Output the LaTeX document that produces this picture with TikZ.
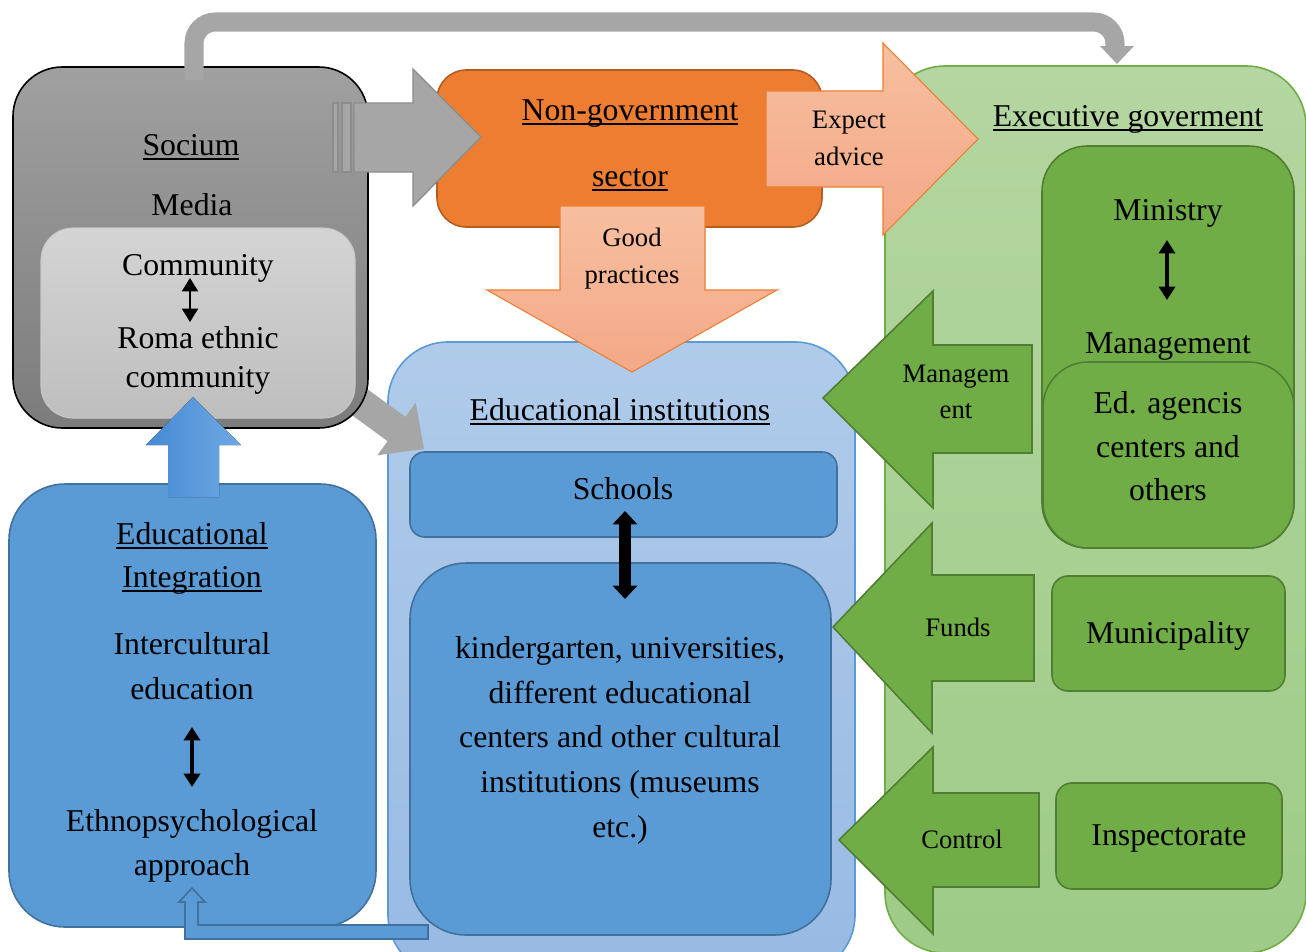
\documentclass[tikz,border=0pt]{standalone}
\usepackage{fontspec}
\setmainfont{Liberation Serif}
\usetikzlibrary{arrows.meta}
\definecolor{cgray}{HTML}{A6A6A6}
\definecolor{cgrayd}{HTML}{8C8C8C}
\definecolor{corange}{HTML}{ED7D31}
\definecolor{corangeb}{HTML}{B25E22}
\definecolor{csalmonT}{HTML}{F6BFA0}
\definecolor{csalmonB}{HTML}{F4A886}
\definecolor{cblue}{HTML}{5B9BD5}
\definecolor{cblueb}{HTML}{41719C}
\definecolor{cgreen}{HTML}{70AD47}
\definecolor{cgreenb}{HTML}{507E32}
\newcommand{\rbox}[7]{\node[#7, rounded corners=#6, minimum width={(#4-(#2))*0.75pt}, minimum height={(#5-(#3))*0.75pt}] (#1) at ({((#2)+(#4))/2},{((#3)+(#5))/2}) {};}
\newcommand{\myul}[1]{{\setbox0\hbox{#1}\rlap{\rule[-0.16em]{\wd0}{0.065em}}\box0}}
\begin{document}
\begin{tikzpicture}[x=0.75pt,y=-0.75pt,
  every node/.style={inner sep=0pt, outer sep=0pt},
  big/.style={font=\fontsize{23.8}{28}\selectfont, anchor=base},
  small/.style={font=\fontsize{20}{24}\selectfont, anchor=base},
  bluebox/.style={fill=cblue, draw=cblueb, line width=1.2pt},
  greenbox/.style={fill=cgreen, draw=cgreenb, line width=1.2pt},
  greenarrow/.style={fill=cgreen, draw=cgreenb, line width=1.2pt},
  grayarrow/.style={fill=cgray, draw=cgrayd, line width=1pt},
  dbl/.style={line width=#1, {Triangle[width=12pt,length=10pt]}-{Triangle[width=12pt,length=10pt]}}
]
\useasboundingbox (0,0) rectangle (1306,951);
\clip (0,0) rectangle (1306,951);

% background containers
\rbox{exec}{885}{66}{1306}{953}{45pt}{top color={rgb,255:red,180;green,214;blue,161}, bottom color={rgb,255:red,158;green,203;blue,135}, draw=cgreen, line width=1.2pt}
\rbox{edinst}{388}{342}{855}{975}{45pt}{top color={rgb,255:red,176;green,203;blue,234}, bottom color={rgb,255:red,152;green,186;blue,227}, draw=cblue, line width=1.2pt}

% grey diagonal arrow (behind socium)
\fill[cgray] (356.9,381.5) -- (405.4,416.9) -- (415.7,402.7) -- (424,449) -- (377.3,455.3) -- (387.6,441.2) -- (339.2,405.7) -- cycle;

% socium
\rbox{socium}{13}{67}{368}{428}{37pt}{top color={rgb,255:red,160;green,160;blue,160}, bottom color={rgb,255:red,124;green,124;blue,124}, draw=black, line width=1.2pt}
\rbox{commbox}{41}{228}{355}{418}{24pt}{top color={rgb,255:red,212;green,212;blue,212}, bottom color={rgb,255:red,190;green,190;blue,190}, draw={rgb,255:red,200;green,200;blue,200}, line width=0.8pt}

% top grey connector
\coordinate (topS) at (194,80);
\coordinate (topE) at (1115,50);
\draw[cgray, line width=14.3pt, rounded corners=16pt] (topS) |- (1115,22) -- (topE);
\fill[cgray] (1100,46) -- (1134,46) -- (1117,64) -- cycle;

% NGO
\rbox{ngo}{437}{70}{822}{227}{22pt}{fill=corange, draw=corangeb, line width=1.2pt}

% grey striped arrow socium -> ngo
\draw[grayarrow] (333,103) rectangle (338,172);
\draw[grayarrow] (342,103) rectangle (351,172);
\draw[grayarrow] (354,103) -- (413,103) -- (413,69) -- (481,137) -- (413,206) -- (413,172) -- (354,172) -- cycle;

% expect advice arrow
\draw[top color=csalmonT, bottom color=csalmonB, draw=corange, line width=0.8pt] (766,91) -- (883,91) -- (883,43) -- (978,139) -- (883,235) -- (883,187) -- (766,187) -- cycle;

% good practices arrow
\draw[top color=csalmonT, bottom color=csalmonB, draw=corange, line width=0.8pt] (560,206) -- (705,206) -- (705,290) -- (777,290) -- (632,372) -- (487,290) -- (560,290) -- cycle;

% blue boxes
\rbox{schools}{410}{452}{837}{537}{11pt}{bluebox}
\rbox{kinder}{410}{563}{831}{935}{42pt}{bluebox}
\rbox{integ}{9}{484}{376}{927}{42pt}{bluebox}

% blue up arrow
\fill[left color={rgb,255:red,70;green,138;blue,212}, right color={rgb,255:red,110;green,168;blue,226}] (168,497) -- (168,445) -- (146,445) -- (193,397) -- (241,445) -- (219,445) -- (219,497) -- cycle;

% bottom bent arrow
\draw[bluebox] (428,925) -- (198,925) -- (198,902) -- (205,902) -- (192,888) -- (179,902) -- (185,902) -- (185,939) -- (428,939) -- cycle;

% green boxes
\rbox{ministry}{1042}{146}{1294}{548}{34pt}{greenbox}
\rbox{agenc}{1043}{362}{1294}{548}{34pt}{greenbox}
\rbox{munic}{1052}{576}{1285}{691}{12pt}{greenbox}
\rbox{insp}{1056}{783}{1282}{889}{12pt}{greenbox}

% green arrows
\draw[greenarrow] (1032,345) -- (933,345) -- (933,291) -- (823,398) -- (933,508) -- (933,453) -- (1032,453) -- cycle;
\draw[greenarrow] (1034,575) -- (932,575) -- (932,523) -- (833,627) -- (932,733) -- (932,681) -- (1034,681) -- cycle;
\draw[greenarrow] (1039,793) -- (933,793) -- (933,747) -- (839,840) -- (933,934) -- (933,887) -- (1039,887) -- cycle;

% texts
\node[big] (tSocium) at (191,155) {\myul{Socium}};
\node[big] (tMedia) at (192,215) {Media};
\node[big] (tComm) at (198,275) {Community};
\node[big] (tRoma) at (198,348) {Roma ethnic};
\node[big] (tComm2) at (198,387) {community};

\node[big] (tNgo1) at (630,120) {\myul{Non-government}};
\node[big] (tNgo2) at (630,186) {\myul{sector}};

\node[small] (tExp1) at (849,128) {Expect};
\node[small] (tExp2) at (849,165) {advice};
\node[small] (tGood1) at (632,246) {Good};
\node[small] (tGood2) at (632,283) {practices};

\node[big] (tExec) at (1128,126) {\myul{Executive goverment}};
\node[big] (tMin) at (1168,220) {Ministry};
\node[big] (tMan) at (1168,353) {Management};
\node[big] (tAg1) at (1168,413) {Ed. agencis};
\node[big] (tAg2) at (1168,457) {centers and};
\node[big] (tAg3) at (1168,500) {others};
\node[big] (tMun) at (1168,643) {Municipality};
\node[big] (tIns) at (1169,845) {Inspectorate};

\node[small] (tMg1) at (956,382) {Managem};
\node[small] (tMg2) at (956,418) {ent};
\node[small] (tFunds) at (958,636) {Funds};
\node[small] (tCtrl) at (962,848) {Control};

\node[big] (tEdI) at (620,420) {\myul{Educational institutions}};
\node[big] (tSch) at (623,499) {Schools};
\node[big] (tK1) at (620,658) {kindergarten, universities,};
\node[big] (tK2) at (620,703) {different educational};
\node[big] (tK3) at (620,747) {centers and other cultural};
\node[big] (tK4) at (620,792) {institutions (museums};
\node[big] (tK5) at (620,837) {etc.)};

\node[big] (tInt1) at (192,544) {\myul{Educational}};
\node[big] (tInt2) at (192,587) {\myul{Integration}};
\node[big] (tInt3) at (192,654) {Intercultural};
\node[big] (tInt4) at (192,699) {education};
\node[big] (tInt5) at (192,831) {Ethnopsychological};
\node[big] (tInt6) at (192,875) {approach};

% black double arrows
\coordinate (c1a) at (190,278); \coordinate (c1b) at (190,322);
\draw[dbl=1.5pt] (c1a) -- (c1b);
\coordinate (c2a) at (1167,240); \coordinate (c2b) at (1167,300);
\draw[dbl=3pt] (c2a) -- (c2b);
\coordinate (c3a) at (192,727); \coordinate (c3b) at (192,787);
\draw[dbl=3pt] (c3a) -- (c3b);
\coordinate (c4a) at (625,511); \coordinate (c4b) at (625,599);
\draw[line width=9.5pt, {Triangle[width=18pt,length=10pt]}-{Triangle[width=18pt,length=10pt]}] (c4a) -- (c4b);
\end{tikzpicture}
\end{document}
